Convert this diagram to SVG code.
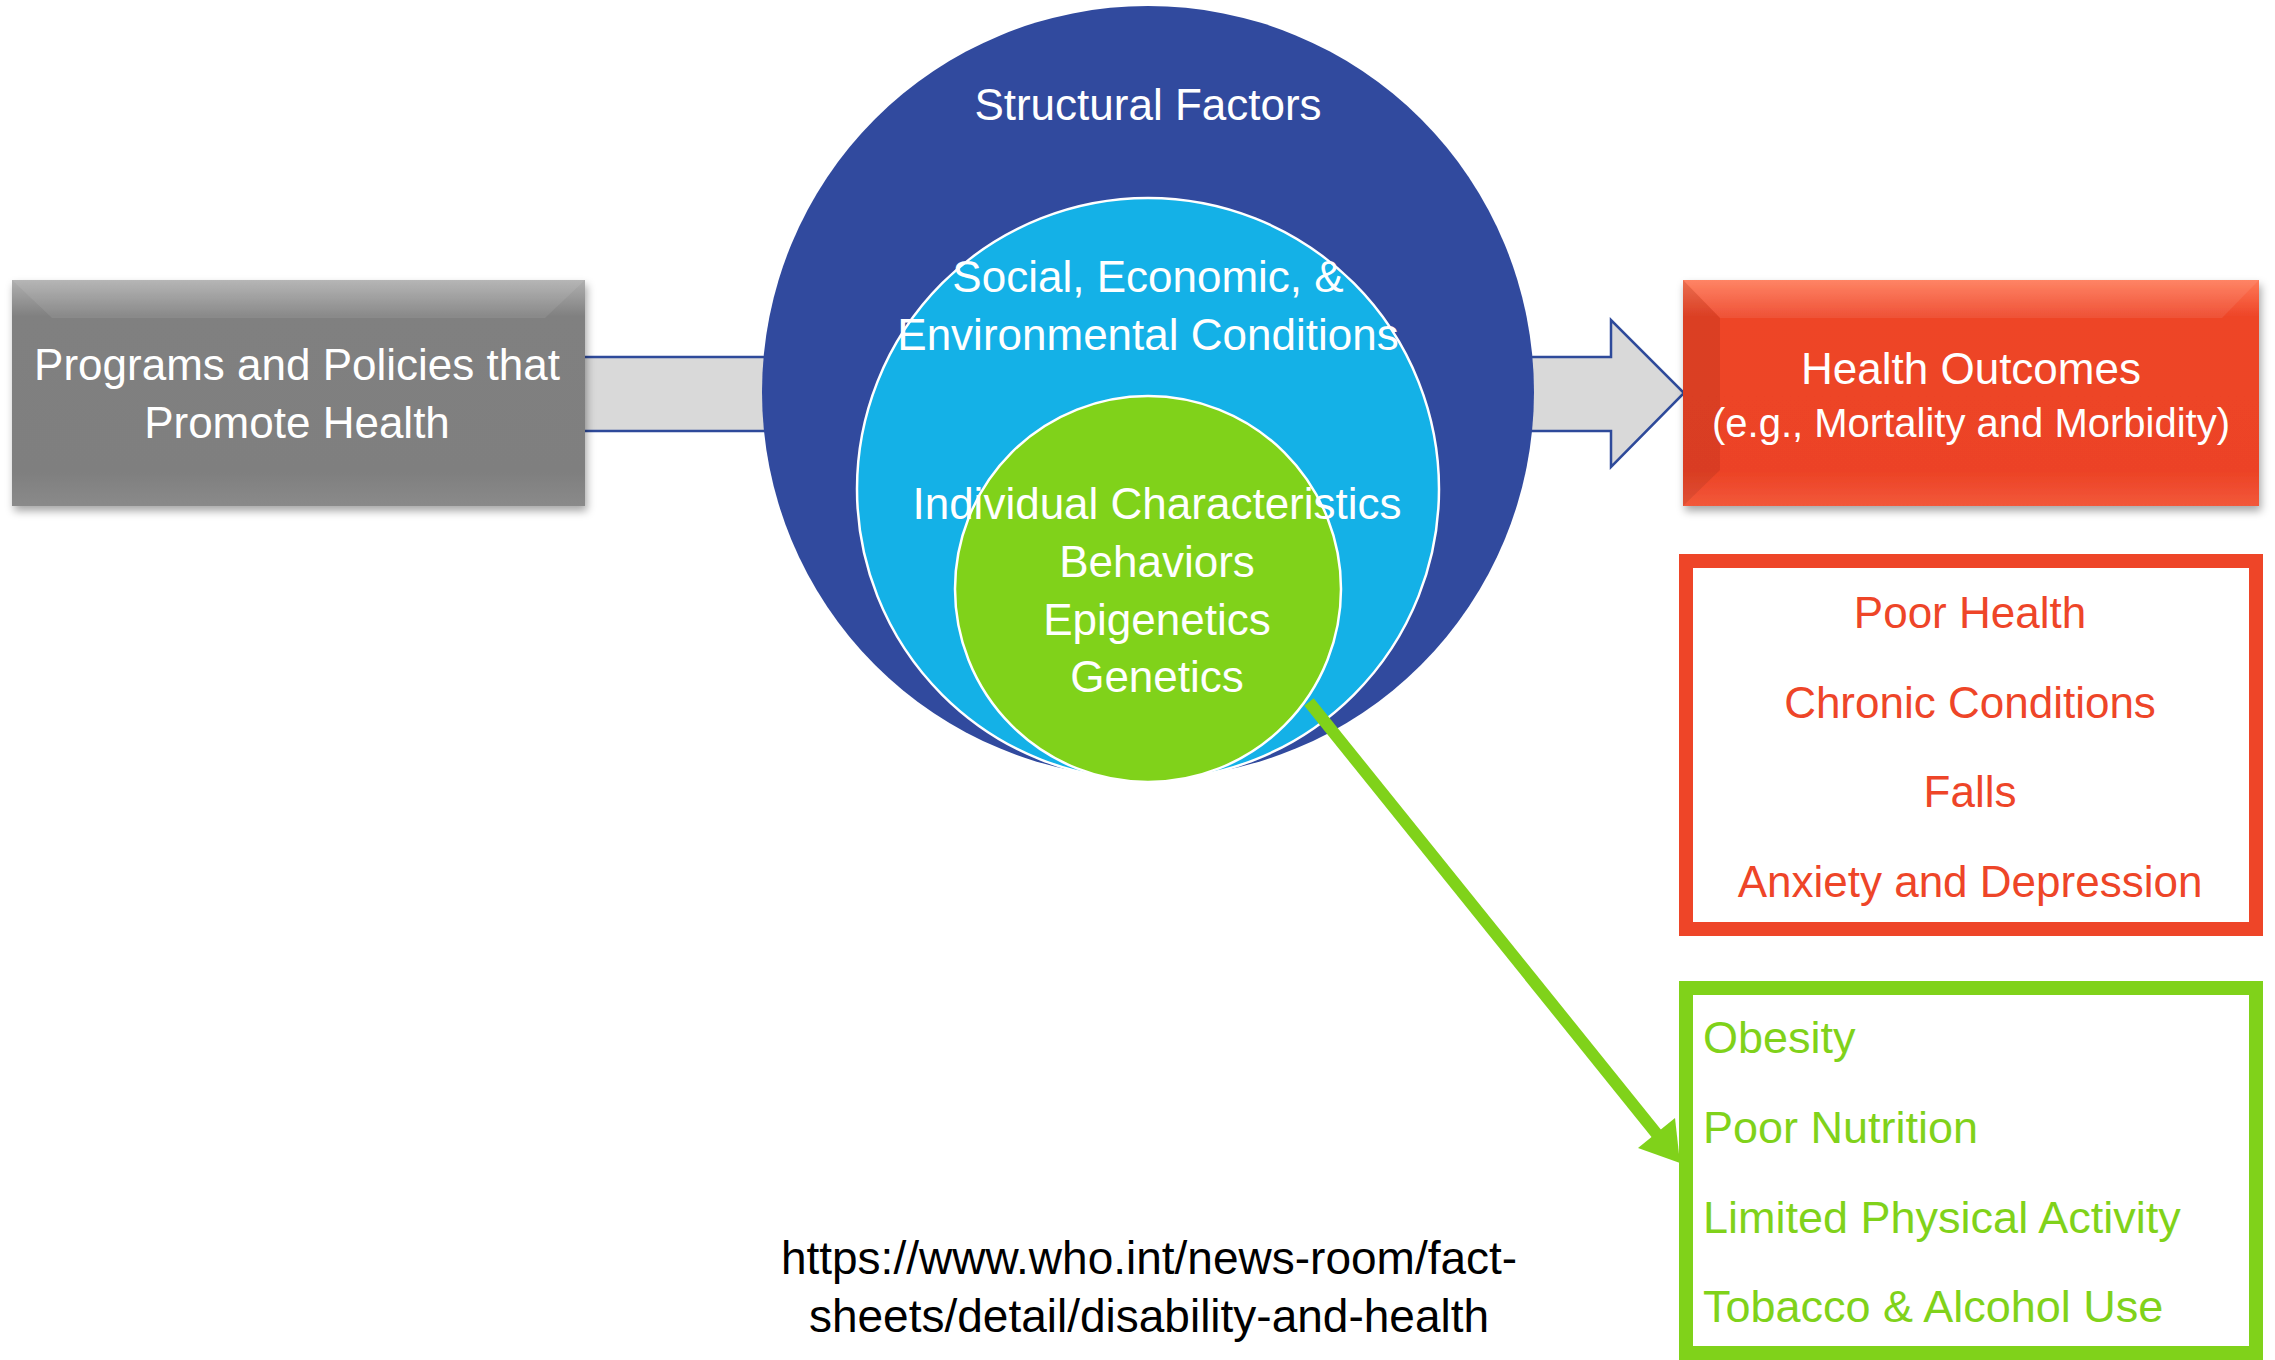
<svg xmlns="http://www.w3.org/2000/svg" width="2275" height="1360" viewBox="0 0 2275 1360">
<defs>
<style>
.t{font-family:"Liberation Sans",Arial,sans-serif;font-size:44px;text-anchor:middle}
.w{fill:#ffffff}
.r{fill:#ee4528}
.g{fill:#80d21a;text-anchor:start;font-size:45px}
.k{fill:#000000;font-size:46px}
.stem{fill:#d9d9d9;stroke:#2e4a9a;stroke-width:2.5}
</style>
<linearGradient id="gGray" x1="0" y1="0" x2="0" y2="1">
<stop offset="0" stop-color="#b0b0b0"/>
<stop offset="0.16" stop-color="#808080"/>
<stop offset="0.85" stop-color="#7f7f7f"/>
<stop offset="1" stop-color="#8a8a8a"/>
</linearGradient>
<linearGradient id="gRed" x1="0" y1="0" x2="0" y2="1">
<stop offset="0" stop-color="#ff7a58"/>
<stop offset="0.16" stop-color="#ee4528"/>
<stop offset="0.85" stop-color="#ec4326"/>
<stop offset="1" stop-color="#f2583a"/>
</linearGradient>
<filter id="sh" x="-5%" y="-5%" width="115%" height="120%">
<feDropShadow dx="2" dy="5" stdDeviation="4" flood-color="#000" flood-opacity="0.35"/>
</filter>
</defs>

<g id="connectors">
<path d="M585 357 L780 357 L780 431 L585 431 Z" fill="#d9d9d9"/>
<line x1="585" y1="357" x2="780" y2="357" stroke="#2e4a9a" stroke-width="2.5"/>
<line x1="585" y1="431" x2="780" y2="431" stroke="#2e4a9a" stroke-width="2.5"/>
<path class="stem" d="M1520 357 L1611 357 L1611 320 L1684 393 L1611 467 L1611 431 L1520 431 Z"/>
</g>

<g id="programs">
<rect x="12" y="280" width="573" height="226" fill="url(#gGray)" filter="url(#sh)"/>
<path d="M12 280 L52 318 L545 318 L585 280 Z" fill="#ffffff" opacity="0.08"/>
<text class="t w" x="297" y="380">Programs and Policies that</text>
<text class="t w" x="297" y="438">Promote Health</text>
</g>

<g id="structural">
<circle cx="1148" cy="392" r="386" fill="#314a9e"/>
<text class="t w" x="1148" y="120">Structural Factors</text>
</g>

<g id="social">
<circle cx="1148" cy="489" r="291" fill="#14b1e7" stroke="#ffffff" stroke-width="2.5"/>
<text class="t w" x="1148" y="292">Social, Economic, &amp;</text>
<text class="t w" x="1148" y="350">Environmental Conditions</text>
</g>

<g id="individual">
<circle cx="1148" cy="589" r="193" fill="#80d21a" stroke="#ffffff" stroke-width="2.5"/>
<text class="t w" x="1157" y="519">Individual Characteristics</text>
<text class="t w" x="1157" y="577">Behaviors</text>
<text class="t w" x="1157" y="635">Epigenetics</text>
<text class="t w" x="1157" y="692">Genetics</text>
</g>

<g id="outcomes">
<rect x="1683" y="280" width="576" height="226" fill="url(#gRed)" filter="url(#sh)"/>
<path d="M1683 280 L1720 318 L2222 318 L2259 280 Z" fill="#ffffff" opacity="0.08"/>
<path d="M1683 280 L1720 318 L1720 470 L1683 506 Z" fill="#000000" opacity="0.08"/>
<text class="t w" x="1971" y="384">Health Outcomes</text>
<text class="t w" x="1971" y="437" style="font-size:40px">(e.g., Mortality and Morbidity)</text>
</g>

<g id="conditions">
<rect x="1686" y="561" width="570" height="368" fill="#ffffff" stroke="#ee4528" stroke-width="14"/>
<text class="t r" x="1970" y="628">Poor Health</text>
<text class="t r" x="1970" y="718">Chronic Conditions</text>
<text class="t r" x="1970" y="807">Falls</text>
<text class="t r" x="1970" y="897">Anxiety and Depression</text>
</g>

<g id="behaviors">
<rect x="1686" y="988" width="570" height="365" fill="#ffffff" stroke="#80d21a" stroke-width="14"/>
<text class="t g" x="1703" y="1053">Obesity</text>
<text class="t g" x="1703" y="1143">Poor Nutrition</text>
<text class="t g" x="1703" y="1233">Limited Physical Activity</text>
<text class="t g" x="1703" y="1322">Tobacco &amp; Alcohol Use</text>
</g>

<g id="green-arrow">
<line x1="1309" y1="702" x2="1660" y2="1138" stroke="#80d21a" stroke-width="12"/>
<polygon points="1680,1163 1638,1148 1675,1118" fill="#80d21a"/>
</g>

<g id="source">
<text class="t k" x="1149" y="1274">https://www.who.int/news-room/fact-</text>
<text class="t k" x="1149" y="1332">sheets/detail/disability-and-health</text>
</g>
</svg>
